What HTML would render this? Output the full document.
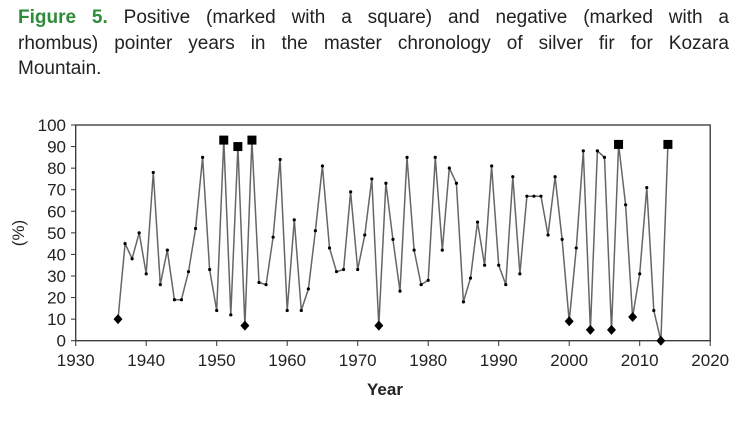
<!DOCTYPE html>
<html><head><meta charset="utf-8"><style>
body{margin:0;width:751px;height:421px;background:#fff;overflow:hidden;font-family:"Liberation Sans",sans-serif;}
#t{position:absolute;left:18px;top:5px;width:711px;font-size:19px;line-height:25.5px;color:#222;}
#t div{text-align:justify;text-align-last:justify;white-space:nowrap;}
#t div.l{text-align-last:left;}
#t b{color:#2e8b3a;}
svg{position:absolute;left:0;top:0;}
</style></head><body>
<div id="t"><div><b>Figure 5.</b> Positive (marked with a square) and negative (marked with a</div><div>rhombus) pointer years in the master chronology of silver fir for Kozara</div><div class="l">Mountain.</div></div>
<svg id="s" width="751" height="421" font-family="Liberation Sans, sans-serif"></svg>
<script>
var v=[10,45,38,50,31,78,26,42,19,19,32,52,85,33,14,93,12,90,7,93,27,26,48,84,14,56,14,24,51,81,43,32,33,69,33,49,75,7,73,47,23,85,42,26,28,85,42,80,73,18,29,55,35,81,35,26,76,31,67,67,67,49,76,47,9,43,88,5,88,85,5,91,63,11,31,71,14,0,91];
var sq=[1951,1953,1955,2007,2014],di=[1936,1954,1973,2000,2003,2006,2009,2013];
function X(y){return 75.7+(y-1930)*7.05}function Y(p){return 340.7-p*2.157}
var h='<rect x="75.7" y="125" width="634.5" height="215.7" fill="none" stroke="#333" stroke-width="1.3"/>';
for(var i=0;i<=10;i++){var y=Y(i*10);h+='<line x1="71" x2="75.7" y1="'+y+'" y2="'+y+'" stroke="#333"/><text x="66" y="'+(y+6)+'" font-size="17" text-anchor="end" fill="#222">'+(i*10)+'</text>';}
for(var i=0;i<=9;i++){var x=X(1930+i*10);h+='<line x1="'+x+'" x2="'+x+'" y1="340.7" y2="346" stroke="#333"/><text x="'+x+'" y="366" font-size="17" text-anchor="middle" fill="#222">'+(1930+i*10)+'</text>';}
var pts=v.map(function(p,i){return X(1936+i).toFixed(1)+','+Y(p).toFixed(1)}).join(' ');
h+='<polyline points="'+pts+'" fill="none" stroke="#666" stroke-width="1.5"/>';
v.forEach(function(p,i){var yr=1936+i,x=X(yr),y=Y(p);
 if(sq.indexOf(yr)>=0)h+='<rect x="'+(x-4.5)+'" y="'+(y-4.5)+'" width="9" height="9" fill="#000"/>';
 else if(di.indexOf(yr)>=0)h+='<polygon points="'+x+','+(y-5)+' '+(x+4.5)+','+y+' '+x+','+(y+5)+' '+(x-4.5)+','+y+'" fill="#000"/>';
 else h+='<circle cx="'+x+'" cy="'+y+'" r="1.6" fill="#000"/>';});
h+='<text x="385" y="395" font-size="17" font-weight="bold" text-anchor="middle" fill="#222">Year</text>';
h+='<text transform="translate(24,233) rotate(-90)" font-size="17" text-anchor="middle" fill="#222">(%)</text>';
document.getElementById('s').innerHTML=h;
</script>
</body></html>
